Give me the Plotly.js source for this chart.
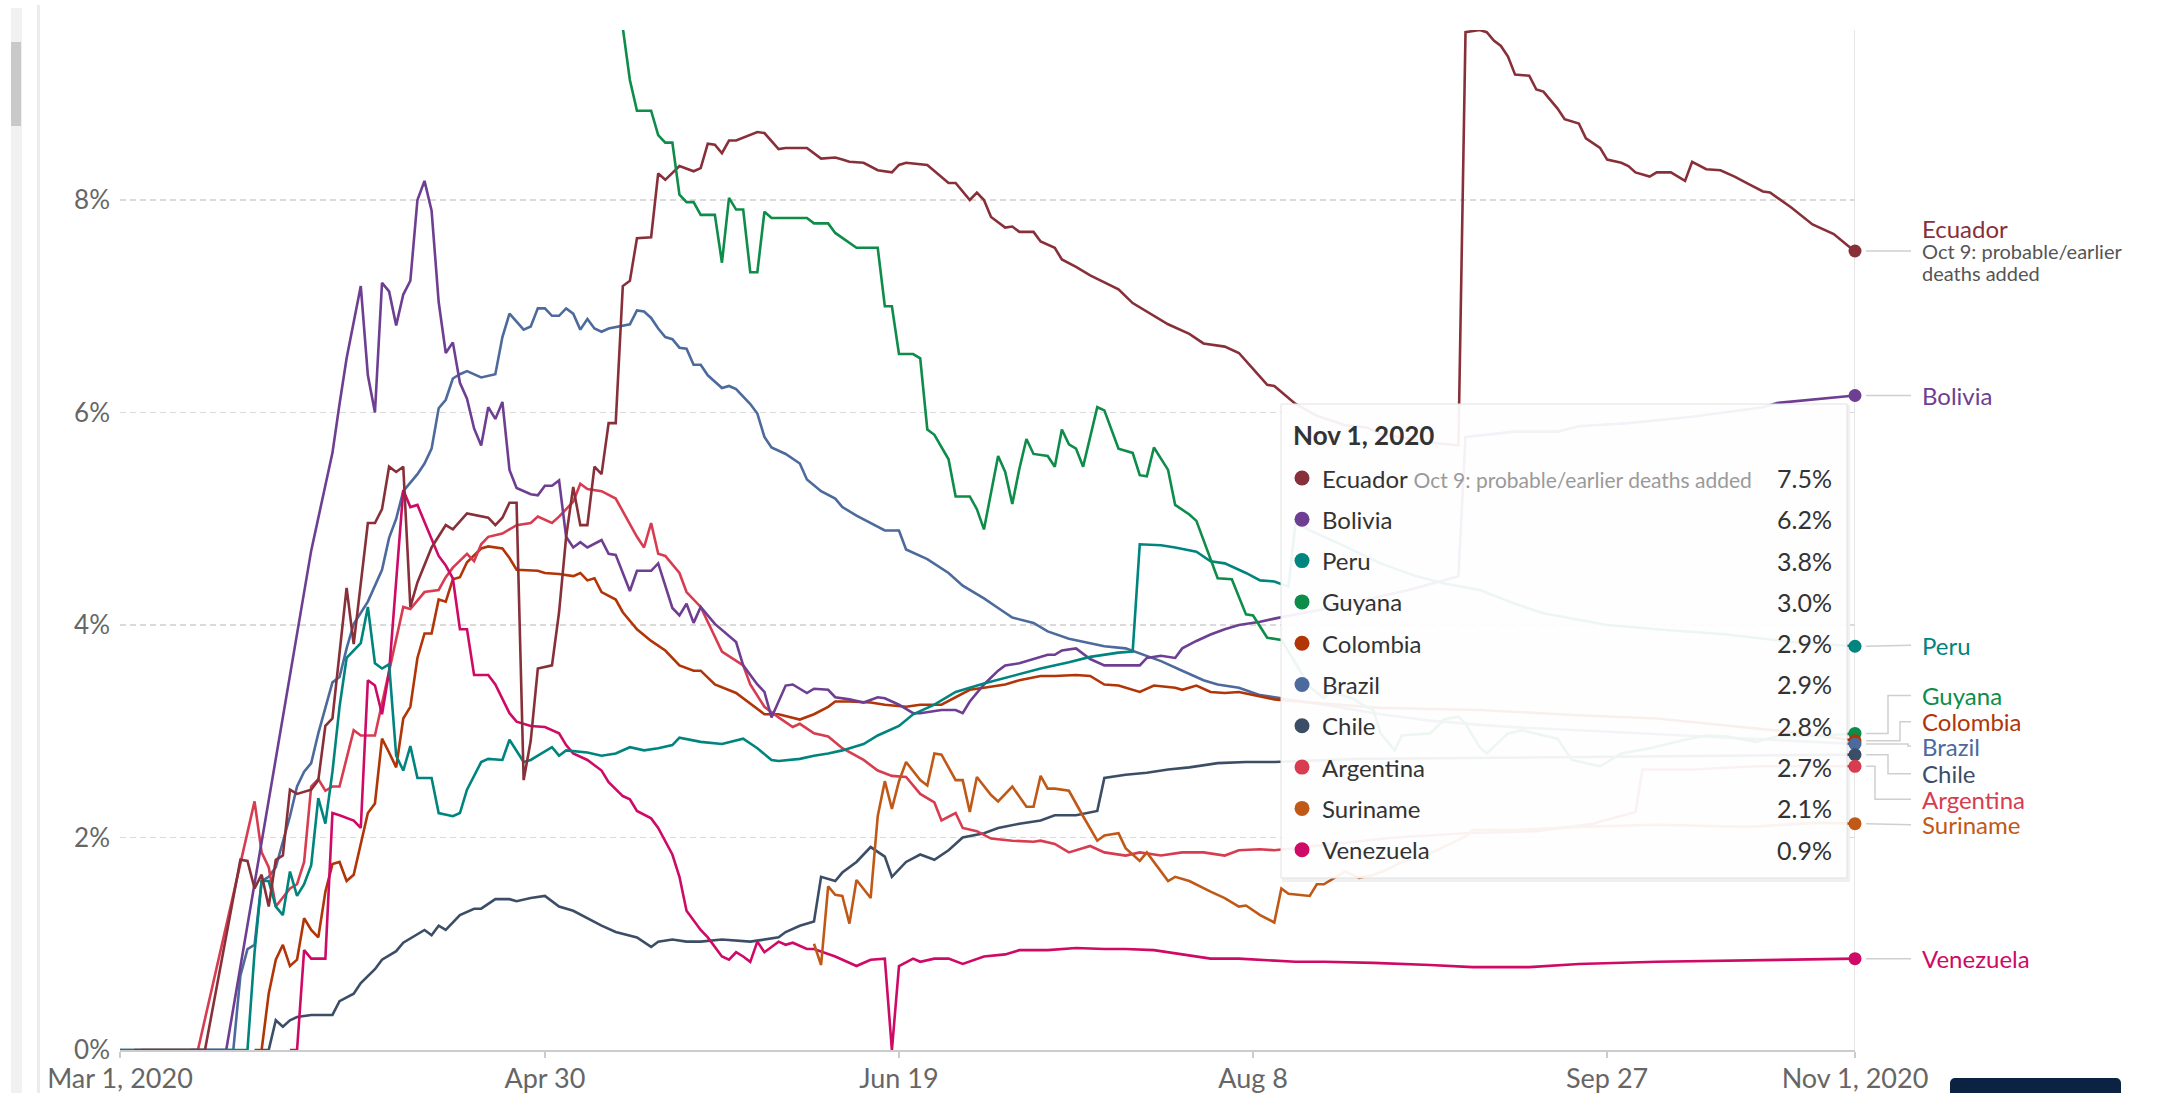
<!DOCTYPE html>
<html>
<head>
<meta charset="utf-8">
<script src="https://cdn.plot.ly/plotly-3.0.1.min.js"></script>
<style>
  html, body { margin:0; padding:0; background:#fff; overflow:hidden; }
  #chart { position:absolute; left:0; top:0; width:2164px; height:1093px; }
  .strip { position:absolute; left:11px; top:8px; width:11px; height:1085px; background:#f1f1f1; z-index:5; }
  .thumb { position:absolute; left:11px; top:42px; width:10px; height:84px; background:#c9c9c9; z-index:6; }
  .pageborder { position:absolute; left:37px; top:5px; width:3px; height:1088px; background:#ececec; z-index:5; }
  .btn { position:absolute; left:1950px; top:1078px; width:171px; height:20px; background:#0c2242; border-radius:5px 5px 0 0; z-index:5; }
</style>
</head>
<body>
<div id="chart"></div>
<div class="strip"></div><div class="thumb"></div><div class="pageborder"></div><div class="btn"></div>
<script>
// ---------- DATA: [days since 2020-03-01, case fatality rate %] ----------
const ecuador = [[2,0],[12,0],[17,1.79],[18,1.78],[19,1.52],[20,1.65],[21,1.35],[22,1.79],[23,1.83],[24,2.45],[25,2.41],[27,2.45],[28,2.54],[29,3.05],[30,3.12],[32,4.35],[33,3.82],[35,4.96],[36,4.96],[37,5.09],[38,5.49],[39,5.44],[40,5.49],[41,4.17],[42,4.40],[44,4.73],[46,4.94],[47,4.90],[49,5.05],[52,5.01],[53,4.94],[54,5.01],[55,5.15],[56,5.15],[57,2.54],[58,2.91],[59,3.59],[61,3.62],[62,4.12],[63,4.83],[64,5.30],[65,4.94],[66,4.94],[67,5.49],[68,5.42],[69,5.90],[70,5.90],[71,7.19],[72,7.24],[73,7.64],[75,7.65],[76,8.25],[77,8.19],[79,8.32],[81,8.27],[82,8.30],[83,8.53],[84,8.52],[85,8.44],[86,8.56],[87,8.56],[89,8.61],[90,8.64],[91,8.63],[93,8.48],[94,8.49],[97,8.49],[99,8.39],[101,8.40],[102,8.38],[103,8.36],[105,8.35],[107,8.28],[109,8.26],[110,8.33],[111,8.35],[114,8.33],[117,8.16],[118,8.16],[120,8.00],[121,8.07],[122,8.00],[123,7.84],[125,7.74],[126,7.75],[127,7.70],[129,7.70],[130,7.61],[132,7.55],[133,7.44],[135,7.37],[137,7.29],[140,7.19],[141,7.16],[143,7.03],[146,6.91],[148,6.83],[151,6.74],[153,6.65],[156,6.62],[158,6.56],[160,6.41],[162,6.26],[163,6.25],[166,6.08],[169,5.97],[173,5.88],[176,5.86],[178,5.80],[183,5.74],[186,5.71],[189,5.69],[190,9.58],[192,9.60],[193,9.58],[194,9.50],[195,9.45],[196,9.35],[197,9.18],[199,9.17],[200,9.04],[201,9.02],[203,8.86],[204,8.76],[206,8.72],[207,8.58],[209,8.49],[210,8.38],[212,8.35],[213,8.32],[214,8.26],[216,8.22],[217,8.26],[219,8.26],[221,8.18],[222,8.36],[224,8.29],[226,8.28],[228,8.22],[230,8.15],[232,8.08],[233,8.07],[235,7.98],[236,7.93],[239,7.77],[240,7.74],[242,7.68],[244,7.57],[245,7.52]];

const bolivia = [[10,0],[15,0],[27,4.70],[30,5.62],[31,6.08],[32,6.51],[34,7.19],[35,6.35],[36,6.00],[37,7.22],[38,7.14],[39,6.82],[40,7.11],[41,7.24],[42,8.00],[43,8.18],[44,7.90],[45,7.04],[46,6.56],[47,6.66],[48,6.28],[49,6.13],[50,5.85],[51,5.69],[52,6.05],[53,5.94],[54,6.10],[55,5.46],[56,5.29],[58,5.23],[59,5.22],[60,5.31],[61,5.31],[62,5.36],[63,4.83],[64,4.73],[65,4.78],[66,4.73],[68,4.80],[69,4.67],[70,4.66],[71,4.49],[72,4.32],[73,4.51],[75,4.51],[76,4.58],[77,4.37],[78,4.16],[79,4.09],[80,4.20],[81,4.02],[82,4.17],[84,4.01],[87,3.84],[88,3.62],[90,3.44],[91,3.37],[92,3.13],[94,3.43],[95,3.44],[97,3.36],[98,3.40],[100,3.39],[101,3.32],[103,3.30],[105,3.27],[107,3.32],[108,3.31],[110,3.25],[112,3.17],[113,3.17],[116,3.20],[118,3.20],[119,3.17],[120,3.28],[122,3.44],[124,3.57],[125,3.62],[127,3.64],[129,3.68],[131,3.72],[132,3.72],[133,3.76],[135,3.78],[136,3.73],[137,3.68],[139,3.62],[141,3.62],[144,3.62],[145,3.69],[147,3.71],[149,3.69],[150,3.78],[152,3.85],[154,3.91],[156,3.96],[158,4.00],[161,4.03],[163,4.06],[170,4.15],[176,4.24],[182,4.33],[189,4.46],[190,5.77],[197,5.82],[203,5.82],[206,5.87],[213,5.90],[222,5.96],[232,6.05],[234,6.09],[239,6.12],[245,6.16]];

const peru = [[0,0],[18,0],[19,0.92],[20,1.59],[21,1.59],[22,1.35],[23,1.27],[24,1.68],[25,1.45],[26,1.56],[27,1.74],[28,2.37],[29,2.13],[30,2.62],[31,3.23],[32,3.69],[34,3.83],[35,4.17],[36,3.64],[37,3.59],[38,3.63],[39,2.77],[40,2.63],[41,2.86],[42,2.56],[44,2.56],[45,2.23],[47,2.20],[48,2.23],[49,2.45],[51,2.71],[52,2.74],[54,2.73],[55,2.92],[57,2.71],[58,2.73],[59,2.77],[61,2.85],[62,2.77],[63,2.82],[66,2.80],[68,2.77],[70,2.79],[72,2.85],[74,2.82],[76,2.84],[78,2.87],[79,2.94],[82,2.90],[85,2.88],[88,2.93],[90,2.84],[92,2.73],[93,2.72],[96,2.74],[98,2.77],[100,2.79],[102,2.82],[105,2.88],[107,2.96],[110,3.05],[112,3.16],[115,3.25],[118,3.37],[122,3.45],[126,3.52],[130,3.59],[134,3.65],[137,3.70],[141,3.74],[143,3.75],[144,4.76],[147,4.75],[149,4.73],[152,4.69],[154,4.60],[156,4.58],[159,4.49],[161,4.42],[163,4.41],[165,4.36],[166,4.96],[168,4.89],[173,4.74],[178,4.58],[183,4.46],[187,4.39],[192,4.33],[197,4.20],[201,4.11],[206,4.05],[210,4.00],[217,3.96],[227,3.91],[236,3.84],[245,3.80]];

const guyana = [[70,10.4],[71,9.62],[72,9.13],[73,8.84],[75,8.84],[76,8.61],[77,8.54],[78,8.54],[79,8.05],[80,7.98],[81,7.98],[82,7.86],[84,7.86],[85,7.41],[86,8.02],[87,7.91],[88,7.91],[89,7.32],[90,7.32],[91,7.89],[92,7.83],[97,7.83],[98,7.78],[100,7.78],[101,7.69],[103,7.60],[104,7.55],[107,7.55],[108,7.00],[109,7.00],[110,6.55],[112,6.55],[113,6.51],[114,5.84],[115,5.79],[117,5.56],[118,5.21],[120,5.21],[121,5.09],[122,4.90],[124,5.59],[125,5.44],[126,5.14],[127,5.47],[128,5.75],[129,5.61],[131,5.59],[132,5.49],[133,5.84],[134,5.70],[135,5.66],[136,5.49],[138,6.05],[139,6.02],[141,5.66],[143,5.62],[144,5.41],[145,5.40],[146,5.67],[148,5.46],[149,5.13],[151,5.04],[152,4.98],[155,4.44],[157,4.43],[159,4.10],[160,4.09],[162,3.88],[164,3.86],[166,3.64],[168,3.42],[170,3.31],[171,3.37],[174,3.31],[176,3.23],[177,3.20],[178,2.98],[180,2.82],[181,2.96],[185,2.98],[187,3.11],[189,3.14],[190,3.07],[192,2.85],[193,2.79],[196,2.98],[198,3.01],[201,2.96],[203,2.93],[205,2.73],[209,2.67],[212,2.79],[216,2.84],[221,2.92],[224,2.96],[227,2.95],[231,2.90],[234,2.95],[241,2.96],[245,2.98]];

const colombia = [[19,0],[20,0],[21,0.53],[22,0.85],[23,0.99],[24,0.79],[25,0.85],[26,1.24],[27,1.13],[28,1.06],[29,1.49],[30,1.75],[31,1.77],[32,1.59],[33,1.65],[34,1.95],[35,2.23],[36,2.32],[37,2.93],[38,2.80],[39,2.66],[40,3.12],[41,3.23],[42,3.69],[43,3.92],[44,3.92],[45,4.24],[46,4.22],[47,4.43],[48,4.45],[49,4.59],[51,4.72],[52,4.74],[54,4.72],[55,4.63],[56,4.52],[59,4.51],[60,4.49],[62,4.48],[64,4.46],[65,4.49],[66,4.42],[67,4.44],[68,4.31],[70,4.24],[71,4.12],[73,3.96],[75,3.85],[77,3.76],[79,3.62],[81,3.57],[82,3.57],[84,3.44],[87,3.36],[90,3.21],[91,3.16],[93,3.16],[96,3.11],[98,3.16],[100,3.23],[101,3.28],[103,3.28],[106,3.27],[108,3.25],[111,3.23],[113,3.25],[116,3.25],[118,3.32],[120,3.39],[122,3.41],[125,3.44],[127,3.48],[130,3.52],[132,3.52],[135,3.53],[137,3.52],[139,3.44],[141,3.43],[144,3.37],[146,3.43],[149,3.41],[150,3.39],[152,3.43],[154,3.37],[156,3.36],[158,3.37],[160,3.34],[163,3.30],[170,3.26],[178,3.22],[192,3.20],[206,3.15],[217,3.12],[231,3.03],[238,2.98],[245,2.91]];

const brazil = [[0,0],[16,0],[17,0.70],[18,0.95],[19,0.99],[20,1.59],[21,1.63],[22,1.72],[24,2.20],[25,2.48],[26,2.62],[27,2.70],[28,2.98],[30,3.46],[31,3.51],[32,3.78],[33,4.01],[35,4.22],[37,4.52],[38,4.82],[39,5.00],[40,5.26],[42,5.42],[43,5.52],[44,5.66],[45,6.04],[46,6.12],[47,6.32],[48,6.36],[49,6.39],[51,6.33],[53,6.36],[54,6.71],[55,6.93],[57,6.78],[58,6.81],[59,6.98],[60,6.98],[61,6.91],[62,6.91],[63,6.98],[64,6.93],[65,6.78],[66,6.88],[67,6.79],[68,6.76],[69,6.79],[71,6.82],[72,6.83],[73,6.96],[74,6.95],[75,6.89],[76,6.79],[77,6.71],[78,6.69],[79,6.61],[80,6.60],[81,6.45],[82,6.45],[83,6.35],[85,6.23],[86,6.25],[87,6.22],[89,6.08],[90,5.99],[91,5.77],[92,5.67],[94,5.61],[96,5.52],[97,5.37],[99,5.26],[101,5.19],[102,5.11],[104,5.03],[106,4.96],[108,4.89],[110,4.89],[111,4.71],[114,4.62],[117,4.49],[119,4.37],[122,4.25],[124,4.16],[126,4.07],[129,4.02],[131,3.94],[134,3.87],[136,3.84],[139,3.80],[142,3.78],[144,3.73],[147,3.66],[150,3.57],[153,3.48],[155,3.44],[158,3.41],[161,3.34],[163,3.32],[170,3.25],[178,3.16],[185,3.10],[192,3.06],[199,3.03],[206,3.01],[215,2.98],[225,2.95],[235,2.91],[245,2.88]];

const chile = [[20,0],[21,0],[22,0.28],[23,0.22],[24,0.28],[25,0.31],[27,0.33],[30,0.33],[31,0.46],[33,0.53],[34,0.63],[36,0.76],[37,0.85],[39,0.93],[40,1.01],[42,1.09],[43,1.13],[44,1.08],[45,1.17],[46,1.13],[47,1.20],[48,1.27],[50,1.33],[51,1.33],[53,1.42],[55,1.42],[56,1.40],[58,1.43],[60,1.45],[61,1.40],[62,1.35],[64,1.31],[66,1.24],[68,1.17],[70,1.11],[73,1.06],[75,0.97],[76,1.02],[78,1.04],[80,1.02],[82,1.02],[85,1.04],[89,1.02],[93,1.06],[94,1.11],[96,1.17],[98,1.21],[99,1.63],[101,1.59],[102,1.67],[104,1.77],[106,1.91],[108,1.82],[109,1.63],[111,1.77],[113,1.84],[115,1.79],[117,1.88],[119,2.00],[122,2.04],[124,2.09],[127,2.13],[130,2.16],[132,2.21],[135,2.21],[138,2.25],[139,2.56],[142,2.59],[145,2.61],[148,2.64],[151,2.66],[155,2.70],[159,2.71],[163,2.71],[175,2.74],[190,2.75],[210,2.76],[230,2.77],[245,2.78]];

const argentina = [[3,0],[11,0],[19,2.34],[20,1.86],[21,1.72],[22,1.35],[24,1.52],[25,1.56],[26,1.77],[27,2.48],[28,2.55],[29,2.44],[30,2.48],[31,2.48],[33,3.01],[34,2.96],[36,2.96],[37,3.26],[38,3.55],[39,3.87],[40,4.17],[41,4.15],[43,4.31],[45,4.33],[46,4.45],[47,4.54],[49,4.67],[50,4.60],[51,4.76],[52,4.83],[54,4.86],[56,4.94],[58,4.96],[59,5.02],[61,4.96],[62,5.02],[64,5.16],[65,5.33],[66,5.28],[68,5.26],[70,5.19],[73,4.83],[74,4.73],[75,4.96],[76,4.67],[77,4.65],[79,4.49],[80,4.31],[82,4.17],[85,3.75],[88,3.62],[89,3.44],[91,3.23],[93,3.13],[95,3.04],[96,3.07],[98,2.98],[100,2.95],[102,2.84],[105,2.73],[107,2.63],[109,2.58],[111,2.57],[113,2.41],[115,2.33],[116,2.16],[118,2.23],[119,2.09],[121,2.06],[123,1.99],[126,1.97],[129,1.96],[130,1.97],[132,1.94],[134,1.86],[137,1.92],[139,1.86],[142,1.83],[144,1.86],[147,1.83],[150,1.86],[153,1.86],[156,1.83],[158,1.88],[161,1.89],[163,1.88],[170,1.93],[180,2.00],[190,2.04],[200,2.06],[208,2.13],[214,2.24],[215,2.64],[222,2.64],[231,2.67],[245,2.67]];

const suriname = [[98,1.00],[99,0.80],[100,1.54],[101,1.46],[102,1.45],[103,1.19],[104,1.60],[106,1.43],[107,2.20],[108,2.53],[109,2.27],[110,2.53],[111,2.71],[113,2.54],[114,2.49],[115,2.79],[116,2.78],[118,2.54],[119,2.54],[120,2.24],[121,2.57],[123,2.40],[124,2.34],[126,2.48],[128,2.29],[129,2.29],[130,2.58],[131,2.46],[132,2.46],[134,2.44],[136,2.20],[138,1.97],[139,2.02],[141,2.04],[142,1.90],[144,1.78],[145,1.86],[148,1.59],[149,1.63],[151,1.59],[154,1.49],[156,1.43],[158,1.35],[159,1.36],[161,1.27],[163,1.20],[164,1.52],[165,1.47],[168,1.45],[169,1.56],[170,1.56],[173,1.68],[175,1.62],[177,1.65],[179,1.70],[181,1.77],[185,1.85],[190,2.01],[191,2.07],[197,2.07],[206,2.10],[217,2.12],[230,2.10],[240,2.14],[245,2.13]];

const venezuela = [[24,0],[25,0],[26,0.94],[27,0.86],[29,0.86],[30,2.23],[31,2.21],[33,2.16],[34,2.09],[35,3.48],[36,3.43],[37,3.16],[38,3.56],[40,5.27],[41,5.11],[42,5.13],[43,4.97],[44,4.81],[45,4.65],[46,4.56],[47,4.44],[48,3.96],[49,3.96],[50,3.53],[52,3.53],[53,3.44],[54,3.30],[55,3.17],[56,3.09],[58,3.05],[60,3.04],[62,2.98],[63,2.87],[64,2.79],[66,2.73],[68,2.63],[69,2.52],[71,2.39],[72,2.36],[73,2.25],[75,2.18],[76,2.09],[78,1.84],[79,1.63],[80,1.31],[82,1.13],[83,1.06],[85,0.88],[86,0.85],[87,0.92],[88,0.88],[89,0.83],[90,1.02],[91,0.92],[93,1.02],[94,0.99],[95,1.01],[97,0.95],[98,0.95],[101,0.88],[104,0.79],[106,0.85],[108,0.86],[109,0.0],[110,0.79],[112,0.86],[113,0.83],[115,0.86],[117,0.86],[119,0.81],[122,0.88],[125,0.90],[127,0.94],[131,0.94],[135,0.96],[139,0.95],[142,0.95],[146,0.94],[150,0.90],[154,0.86],[158,0.86],[161,0.85],[166,0.83],[170,0.83],[177,0.82],[185,0.80],[191,0.78],[199,0.78],[206,0.81],[217,0.83],[234,0.85],[245,0.86]];

const countryNames = ['Ecuador','Bolivia','Peru','Guyana','Colombia','Brazil','Chile','Argentina','Suriname','Venezuela'];
const ecuadorNote = 'Oct 9: probable/earlier deaths added';
const tickDates = ['2020-03-01','2020-04-30','2020-06-19','2020-08-08','2020-09-27','2020-11-01'];
const tickLabels = ['Mar 1, 2020','Apr 30','Jun 19','Aug 8','Sep 27','Nov 1, 2020'];
const yTickVals = [0,2,4,6,8];
const yTickLabels = ['0%','2%','4%','6%','8%'];
const hoverDateLabel = 'Nov 1, 2020';

// ---------- STYLE / LAYOUT ----------
const seriesData = {Ecuador:ecuador, Bolivia:bolivia, Peru:peru, Guyana:guyana, Colombia:colombia,
  Brazil:brazil, Chile:chile, Argentina:argentina, Suriname:suriname, Venezuela:venezuela};
const colors = {Ecuador:'#883039', Bolivia:'#6D3E91', Peru:'#00847E', Guyana:'#0E8C4A', Colombia:'#B13507',
  Brazil:'#4C6A9C', Chile:'#3C4E66', Argentina:'#D73C50', Suriname:'#C05917', Venezuela:'#CF0A66'};
// label vertical offset (px, + up) and elbow x (px) for the end-of-line labels
const labelShift = {Ecuador:0, Bolivia:0, Peru:1, Guyana:38, Colombia:19, Brazil:-2, Chile:-19, Argentina:-33, Suriname:-1, Venezuela:0};
const elbowX = {Guyana:1888, Colombia:1900, Brazil:1908, Chile:1888, Argentina:1875};
const drawOrder = ['Brazil','Colombia','Chile','Argentina','Venezuela','Suriname','Bolivia','Peru','Ecuador','Guyana'];

const W = 2164, H = 1093, L = 120, R = 309, T = 30, B = 43;
const PW = W - L - R, PH = H - T - B;
const YMAX = 9.6;
const pxPerUnit = PH / YMAX;
const xp = px => (px - L) / PW;
const yp = py => (H - B - py) / PH;
const FONT = 'Lato, "Noto Sans", sans-serif';

const START = Date.UTC(2020, 2, 1);
const toDate = d => new Date(START + d * 86400000).toISOString().slice(0, 10);
const last = n => seriesData[n][seriesData[n].length - 1];

const traces = drawOrder.map(n => ({
  type: 'scatter', mode: 'lines', name: n,
  x: seriesData[n].map(p => toDate(p[0])),
  y: seriesData[n].map(p => p[1]),
  line: {color: colors[n], width: 2.6},
  hoverinfo: 'skip', showlegend: false
}));
traces.push({
  type: 'scatter', mode: 'markers',
  x: countryNames.map(n => toDate(last(n)[0])),
  y: countryNames.map(n => last(n)[1]),
  marker: {color: countryNames.map(n => colors[n]), size: 13},
  cliponaxis: false, hoverinfo: 'skip', showlegend: false
});

const shapes = [];
const annotations = [];

// hover vertical line at the last date
shapes.push({type:'line', xref:'x', yref:'paper', x0: tickDates[5], x1: tickDates[5], y0: -0.006, y1: 1,
  line:{color:'#dedede', width:1.5}, layer:'below'});

// end labels and connectors
const lblX = 1920, connStart = 1866, connEnd = 1911;
countryNames.forEach(n => {
  const v = last(n)[1];
  const sh = labelShift[n];
  const vLab = v + sh / pxPerUnit;
  let path;
  if (elbowX[n]) {
    const ex = xp(elbowX[n]);
    path = `M ${xp(connStart)},${v} L ${ex},${v} L ${ex},${vLab} L ${xp(connEnd)},${vLab}`;
  } else {
    path = `M ${xp(connStart)},${v} L ${xp(connEnd)},${vLab}`;
  }
  shapes.push({type:'path', xref:'paper', yref:'y', path, line:{color:'#cfcfcf', width:1.5}, layer:'above'});
  if (n === 'Ecuador') {
    annotations.push({xref:'paper', yref:'y', x: xp(lblX), y: v, yshift: 23, xanchor:'left', yanchor:'middle',
      text: n, showarrow:false, font:{family:FONT, size:24, color: colors[n]}});
    annotations.push({xref:'paper', yref:'y', x: xp(lblX), y: v, yshift: 0, xanchor:'left', yanchor:'middle',
      text: 'Oct 9: probable/earlier', showarrow:false, font:{family:FONT, size:20, color:'#555'}});
    annotations.push({xref:'paper', yref:'y', x: xp(lblX), y: v, yshift: -22, xanchor:'left', yanchor:'middle',
      text: 'deaths added', showarrow:false, font:{family:FONT, size:20, color:'#555'}});
  } else {
    annotations.push({xref:'paper', yref:'y', x: xp(lblX), y: v, yshift: sh, xanchor:'left', yanchor:'middle',
      text: n, showarrow:false, font:{family:FONT, size:24, color: colors[n]}});
  }
});

// tooltip box
const tipL = 1281, tipR = 1847, tipT = 404, tipB = 878;
shapes.push({type:'rect', xref:'paper', yref:'paper', x0: xp(tipL+1), x1: xp(tipR+3), y0: yp(tipB+4), y1: yp(tipT+1),
  fillcolor:'rgba(0,0,0,0.06)', line:{width:0}, layer:'above'});
shapes.push({type:'rect', xref:'paper', yref:'paper', x0: xp(tipL), x1: xp(tipR), y0: yp(tipB), y1: yp(tipT),
  fillcolor:'rgba(255,255,255,0.93)', line:{color:'#e2e2e2', width:1}, layer:'above'});
annotations.push({xref:'paper', yref:'paper', x: xp(1291), y: yp(435), xanchor:'left', yanchor:'middle',
  text:'<b>' + hoverDateLabel + '</b>', showarrow:false, font:{family:FONT, size:26, color:'#333'}});
const rows = countryNames.slice().sort((a, b) => last(b)[1] - last(a)[1]);
rows.forEach((n, i) => {
  const cy = 478 + i * 41.3;
  const r = 7.5;
  shapes.push({type:'circle', xref:'paper', yref:'paper', x0: xp(1302 - r), x1: xp(1302 + r), y0: yp(cy + r), y1: yp(cy - r),
    fillcolor: colors[n], line:{width:0}, layer:'above'});
  const label = n === 'Ecuador'
    ? n + ' <span style="font-size:21px;fill:#9a9a9a">' + ecuadorNote + '</span>'
    : n;
  annotations.push({xref:'paper', yref:'paper', x: xp(1320), y: yp(cy), xanchor:'left', yanchor:'middle',
    text: label, showarrow:false, font:{family:FONT, size:24, color:'#333'}});
  annotations.push({xref:'paper', yref:'paper', x: xp(1834), y: yp(cy), xanchor:'right', yanchor:'middle',
    text: last(n)[1].toFixed(1) + '%', showarrow:false, font:{family:FONT, size:25, color:'#333'}});
});

const layout = {
  width: W, height: H,
  margin: {l: L, r: R, t: T, b: B, pad: 0},
  paper_bgcolor: '#fff', plot_bgcolor: '#fff',
  font: {family: FONT, color: '#666'},
  showlegend: false,
  hovermode: false,
  xaxis: {
    type: 'date', range: [tickDates[0], tickDates[5]],
    tickvals: tickDates, ticktext: tickLabels,
    showgrid: false, zeroline: false,
    showline: true, linecolor: '#cccccc', linewidth: 1.5,
    ticks: 'outside', ticklen: 6, tickcolor: '#cccccc', tickwidth: 1.5,
    tickfont: {family: FONT, size: 27, color: '#666'},
    ticklabelstandoff: -2,
    fixedrange: true
  },
  yaxis: {
    range: [0, YMAX],
    tickvals: yTickVals, ticktext: yTickLabels,
    showgrid: true, gridcolor: '#dadada', gridwidth: 1.5, griddash: '6px,4px',
    zeroline: false, showline: false, ticks: '',
    tickfont: {family: FONT, size: 26, color: '#666'},
    ticklabelstandoff: 9,
    fixedrange: true
  },
  shapes, annotations
};

Plotly.newPlot('chart', traces, layout, {displayModeBar: false, staticPlot: true});
</script>
</body>
</html>
